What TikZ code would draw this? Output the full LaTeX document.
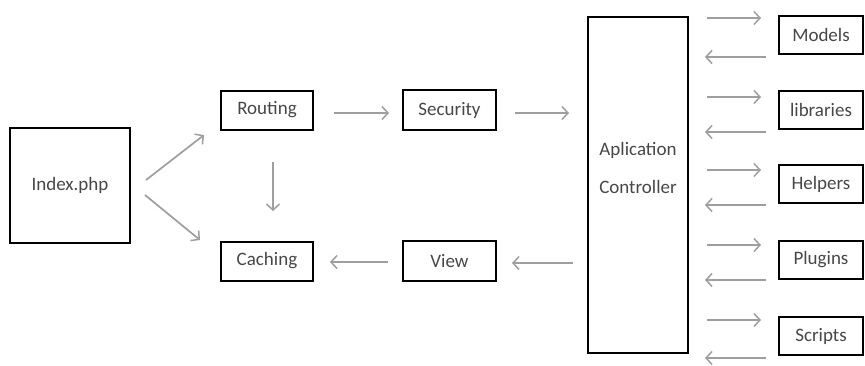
\documentclass[tikz,border=0pt]{standalone}
\usepackage{fontspec}
\setmainfont{Carlito}
\usetikzlibrary{arrows.meta}
\begin{document}
\begin{tikzpicture}[x=1pt,y=-1pt,
  txt/.style={text=black!72,font=\fontsize{19}{23}\selectfont},
  box/.style={draw=black,line width=2pt,inner sep=0pt,txt},
  flow/.style={draw=black!38,line width=1.7pt,-{Straight Barb[length=6pt,width=13pt,line width=1.5pt]}}]
\useasboundingbox (0,0) rectangle (865,365);
% main pipeline
\node[box,minimum width=120,minimum height=115] (index) at (70,185) {Index.php};
\node[box,minimum width=92,minimum height=39] (routing) at (267,110) {Routing};
\node[box,minimum width=92,minimum height=39] (caching) at (267,261) {Caching};
\node[box,minimum width=93,minimum height=40] (security) at (449.5,110) {Security};
\node[box,minimum width=93,minimum height=40] (view) at (449.5,261) {View};
\node[box,minimum width=100,minimum height=336] (ctrl) at (638,185) {};
\node[txt,align=center,font=\fontsize{19}{38}\selectfont] (ctrltext) at (638,168) {Aplication\\Controller};
% components
\foreach \name/\txt/\y in {models/Models/35,libs/libraries/110,helpers/Helpers/184,plugins/Plugins/260,scripts/Scripts/336}
  \node[box,minimum width=84,minimum height=38] (\name) at (821,\y) {\txt};
% connectors
\coordinate (a1) at (146,180); \coordinate (a2) at (204,135);
\coordinate (b1) at (145,195); \coordinate (b2) at (200,240);
\draw[flow] (a1) -- (a2);
\draw[flow] (b1) -- (b2);
\coordinate (c1) at (273,162); \coordinate (c2) at (273,211);
\draw[flow] (c1) -- (c2);
\coordinate (d1) at (334,113); \coordinate (d2) at (389,113);
\draw[flow] (d1) -- (d2);
\coordinate (e1) at (515,113); \coordinate (e2) at (569,113);
\draw[flow] (e1) -- (e2);
\coordinate (f1) at (573,263); \coordinate (f2) at (512,263);
\draw[flow] (f1) -- (f2);
\coordinate (g1) at (388,262); \coordinate (g2) at (330,262);
\draw[flow] (g1) -- (g2);
\foreach \yr/\yl in {18/57,97/132,170/205,245/280,320/358}{
  \coordinate (r1) at (707,\yr); \coordinate (r2) at (761,\yr);
  \draw[flow] (r1) -- (r2);
  \coordinate (l1) at (766,\yl); \coordinate (l2) at (705,\yl);
  \draw[flow] (l1) -- (l2);
}
\end{tikzpicture}
\end{document}
